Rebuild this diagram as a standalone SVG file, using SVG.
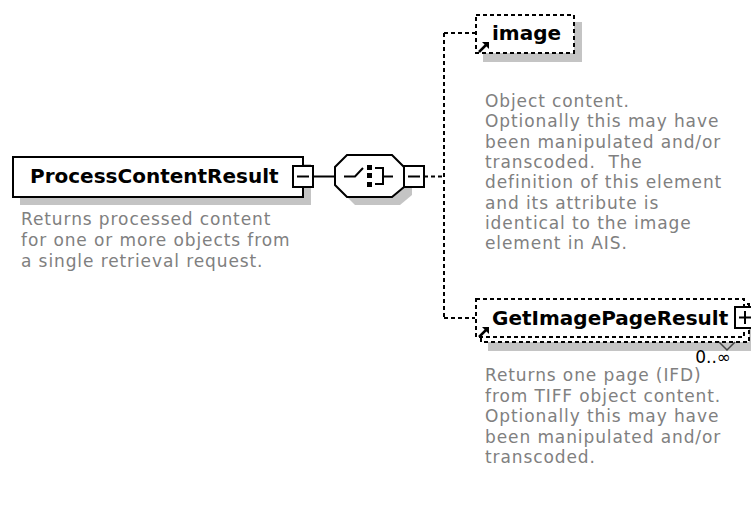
<svg xmlns="http://www.w3.org/2000/svg" width="751" height="505" viewBox="0 0 751 505">
<style>
.box{fill:#fff;stroke:#000;stroke-width:2}
.dbox{fill:#fff;stroke:#000;stroke-width:2;stroke-dasharray:4 3}
.shadow{fill:#c4c4c4}
.title{font-family:"DejaVu Sans",sans-serif;font-weight:bold;font-size:20px;fill:#000}
.desc{font-family:"DejaVu Sans",sans-serif;font-size:17px;letter-spacing:0.9px;fill:#808080;white-space:pre}
.line{stroke:#000;stroke-width:2;fill:none}
.dash{stroke:#000;stroke-width:2;fill:none;stroke-dasharray:4 3}
.ico{fill:#fff;stroke:#000;stroke-width:2}
</style>
<g id="connectors">
<path class="line" d="M313,176.5 H335"/>
<path class="dash" d="M424,176.5 H444"/>
<path class="dash" d="M444,33 V318"/>
<path class="dash" d="M444,33 H475"/>
<path class="dash" d="M444,318 H475"/>
</g>
<g id="ProcessContentResult">
<rect class="shadow" x="20" y="164" width="291" height="41"/>
<rect class="box" x="13" y="157" width="290" height="40"/>
<text class="title" x="30" y="183">ProcessContentResult</text>
<rect class="ico" x="293" y="166" width="20" height="21"/>
<path class="line" d="M297,176.5 H309"/>
<text class="desc" x="21" y="225">Returns processed content</text>
<text class="desc" x="21" y="246">for one or more objects from</text>
<text class="desc" x="21" y="267">a single retrieval request.</text>
</g>
<g id="sequence">
<polygon class="shadow" points="355,163 400,163 412,175 412,195 400,205 355,205 343,193 343,175"/>
<polygon class="box" points="347,155 392,155 404,167 404,187 392,197 347,197 335,185 335,167"/>
<path class="line" d="M344,176.5 H355 L363,168"/>
<rect x="367" y="165" width="5" height="5" fill="#000"/>
<rect x="367" y="173" width="5" height="5" fill="#000"/>
<rect x="367" y="182" width="5" height="5" fill="#000"/>
<path class="line" d="M375,168 H383 V184 H375 M383,176.5 H393"/>
<rect class="ico" x="404" y="166" width="20" height="21"/>
<path class="line" d="M408,176.5 H420"/>
</g>
<g id="image">
<rect class="shadow" x="483" y="22" width="99" height="40"/>
<rect class="dbox" x="476" y="15" width="98" height="38"/>
<text class="title" x="492" y="40">image</text>
<path d="M479,52 L486,45" stroke="#000" stroke-width="2.5"/>
<polygon points="482,42 489,42 489,49" fill="#000"/>
<text class="desc" x="485" y="107">Object content.</text>
<text class="desc" x="485" y="127.3">Optionally this may have</text>
<text class="desc" x="485" y="147.6">been manipulated and/or</text>
<text class="desc" x="485" y="167.9">transcoded.  The</text>
<text class="desc" x="485" y="188.2">definition of this element</text>
<text class="desc" x="485" y="208.5">and its attribute is</text>
<text class="desc" x="485" y="228.8">identical to the image</text>
<text class="desc" x="485" y="249.1">element in AIS.</text>
</g>
<g id="GetImagePageResult">
<rect class="shadow" x="488" y="311" width="270" height="40"/>
<rect class="dbox" x="481" y="304" width="268" height="38"/>
<rect class="dbox" x="476" y="299" width="268" height="38"/>
<text class="title" x="492" y="325">GetImagePageResult</text>
<path d="M479,337 L486,330" stroke="#000" stroke-width="2.5"/>
<polygon points="482,327 489,327 489,334" fill="#000"/>
<rect class="ico" x="735" y="307" width="20" height="21"/>
<path class="line" d="M739,317.5 H751 M745,311 V324"/>
<path d="M719,342 L727,350 L735,342" fill="none" stroke="#444" stroke-width="1.5"/>
<text x="731" y="363" text-anchor="end" font-family="DejaVu Sans, sans-serif" font-size="17" fill="#000">0..∞</text>
<text class="desc" x="485" y="381">Returns one page (IFD)</text>
<text class="desc" x="485" y="401.5">from TIFF object content.</text>
<text class="desc" x="485" y="422">Optionally this may have</text>
<text class="desc" x="485" y="442.5">been manipulated and/or</text>
<text class="desc" x="485" y="463">transcoded.</text>
</g>
</svg>
